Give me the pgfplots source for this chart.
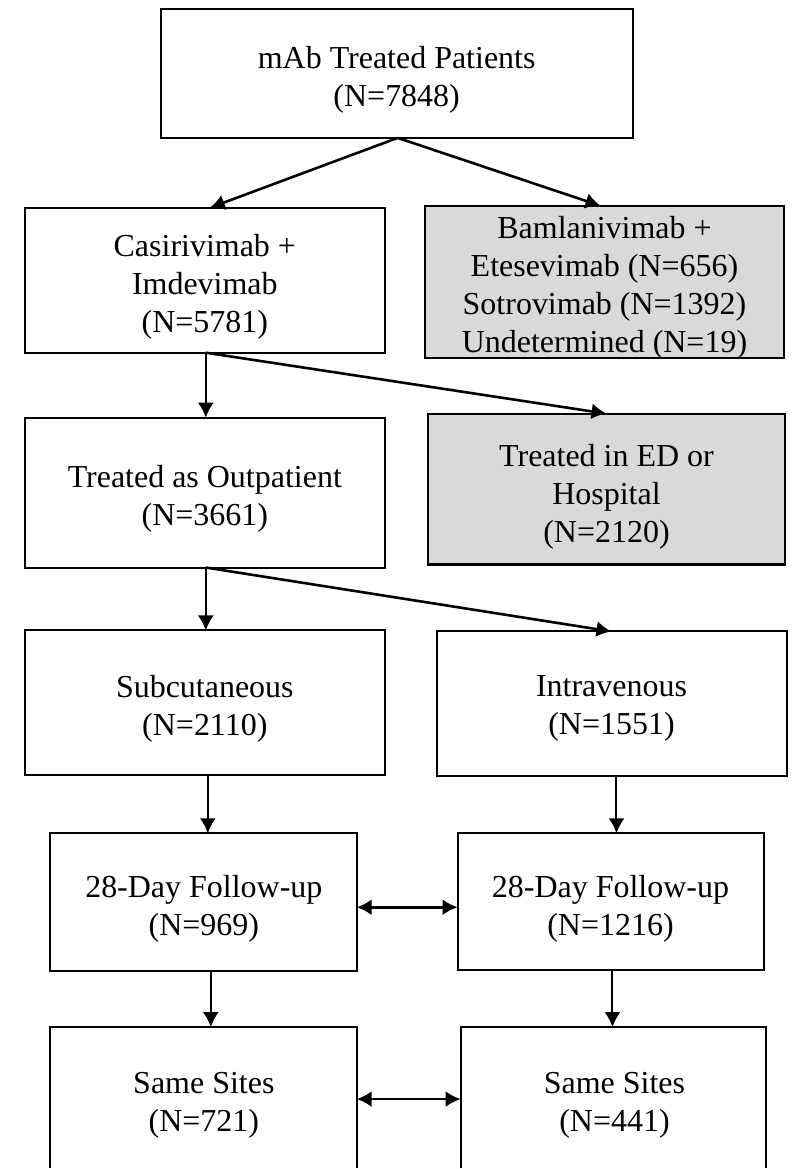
\documentclass[border=0pt]{standalone}
\usepackage{pgfplots}
\pgfplotsset{compat=1.18}
\usepackage{fontspec}
\setmainfont{Liberation Serif}
\usetikzlibrary{arrows.meta}
\definecolor{boxgray}{HTML}{D9D9D9}
\tikzset{bt/.style={font=\fontsize{16pt}{19pt}\selectfont, align=center, inner sep=0pt}}
\begin{document}
\begin{tikzpicture}
\begin{axis}[
  width=399pt, height=584.5pt, scale only axis,
  xmin=0, xmax=798, ymin=0, ymax=1169, y dir=reverse,
  axis lines=none, clip=false,
]
\path (axis cs:0,0) rectangle (axis cs:798,1169);
% boxes
\addplot[draw=black, line width=1pt, fill=white] coordinates {(161,9) (634,9) (634,138) (161,138)} -- cycle;
\addplot[draw=black, line width=1pt, fill=white] coordinates {(25,208) (385,208) (385,353) (25,353)} -- cycle;
\addplot[draw=black, line width=1.1pt, fill=boxgray] coordinates {(425,206) (785,206) (785,358) (425,358)} -- cycle;
\addplot[draw=black, line width=1pt, fill=white] coordinates {(25,418) (385,418) (385,568) (25,568)} -- cycle;
\addplot[draw=black, line width=1.1pt, fill=boxgray] coordinates {(428,414) (786,414) (786,565) (428,565)} -- cycle;
\addplot[draw=black, line width=1pt, fill=white] coordinates {(25,631) (385,631) (385,776) (25,776)} -- cycle;
\addplot[draw=black, line width=1pt, fill=white] coordinates {(437,632) (788,632) (788,777) (437,777)} -- cycle;
\addplot[draw=black, line width=1pt, fill=white] coordinates {(50,834) (357,834) (357,972) (50,972)} -- cycle;
\addplot[draw=black, line width=1pt, fill=white] coordinates {(458,834) (765,834) (765,971) (458,971)} -- cycle;
\addplot[draw=black, line width=1pt] coordinates {(50,1169) (50,1028) (357,1028) (357,1169)};
\addplot[draw=black, line width=1pt] coordinates {(461,1169) (461,1028) (767,1028) (767,1169)};
% arrows
\addplot[-{Latex[length=7.5pt,width=8pt]}, line width=1.3pt] coordinates {(398,138) (210,208)};
\addplot[-{Latex[length=7.5pt,width=8pt]}, line width=1.3pt] coordinates {(398,138) (601,206)};
\addplot[-{Latex[length=7.5pt,width=8pt]}, line width=1pt] coordinates {(206,353) (206,418)};
\addplot[-{Latex[length=7.5pt,width=8pt]}, line width=1.3pt] coordinates {(206,353) (607,414)};
\addplot[-{Latex[length=7.5pt,width=8pt]}, line width=1pt] coordinates {(206,568) (206,631)};
\addplot[-{Latex[length=7.5pt,width=8pt]}, line width=1.3pt] coordinates {(206,568) (612,632)};
\addplot[-{Latex[length=7.5pt,width=8pt]}, line width=1pt] coordinates {(208,776) (208,834)};
\addplot[-{Latex[length=7.5pt,width=8pt]}, line width=1pt] coordinates {(617,777) (617,834)};
\addplot[{Latex[length=7.5pt,width=8pt]}-{Latex[length=7.5pt,width=8pt]}, line width=1.3pt] coordinates {(357,908) (458,908)};
\addplot[-{Latex[length=7.5pt,width=8pt]}, line width=1pt] coordinates {(211,972) (211,1028)};
\addplot[-{Latex[length=7.5pt,width=8pt]}, line width=1pt] coordinates {(613,971) (613,1028)};
\addplot[{Latex[length=7.5pt,width=8pt]}-{Latex[length=7.5pt,width=8pt]}, line width=1.3pt] coordinates {(357,1100) (461,1100)};
% texts
\node[bt] at (axis cs:397,80) {mAb Treated Patients\\(N=7848)};
\node[bt] at (axis cs:205,287) {Casirivimab +\\Imdevimab\\(N=5781)};
\node[bt] at (axis cs:605,288) {Bamlanivimab +\\Etesevimab (N=656)\\Sotrovimab (N=1392)\\Undetermined (N=19)};
\node[bt] at (axis cs:205,499) {Treated as Outpatient\\(N=3661)};
\node[bt] at (axis cs:607,497) {Treated in ED or\\Hospital\\(N=2120)};
\node[bt] at (axis cs:205,709) {Subcutaneous\\(N=2110)};
\node[bt] at (axis cs:612,709) {Intravenous\\(N=1551)};
\node[bt] at (axis cs:204,910) {28-Day Follow-up\\(N=969)};
\node[bt] at (axis cs:611,910) {28-Day Follow-up\\(N=1216)};
\node[bt] at (axis cs:204,1106) {Same Sites\\(N=721)};
\node[bt] at (axis cs:615,1106) {Same Sites\\(N=441)};
\end{axis}
\end{tikzpicture}
\end{document}
